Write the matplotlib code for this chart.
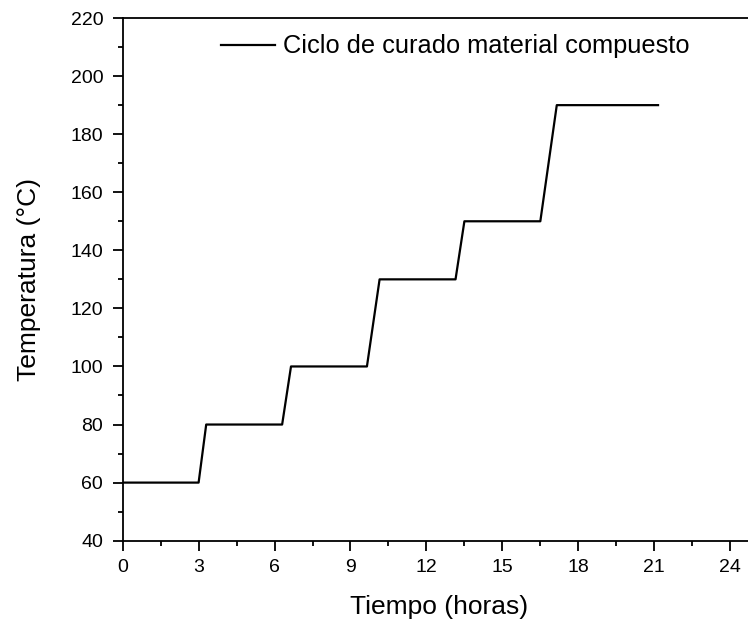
import matplotlib
matplotlib.use("Agg")
import matplotlib.pyplot as plt
from matplotlib.ticker import MultipleLocator

plt.rcParams['font.family'] = ['Liberation Sans', 'DejaVu Sans']

# Curing cycle of the composite: time (h) vs temperature (°C)
tiempo_h = [0.0, 3.0, 3.3, 6.3, 6.65, 9.65, 10.15, 13.15, 13.5, 16.5, 17.15, 21.15]
temperatura_c = [60, 60, 80, 80, 100, 100, 130, 130, 150, 150, 190, 190]
serie_label = "Ciclo de curado material compuesto"

fig = plt.figure(figsize=(7.48, 6.26), dpi=100)
ax = fig.add_axes([0.164, 0.1363, 0.846, 0.8349])

ax.plot(tiempo_h, temperatura_c, color='black', lw=1.6, label=serie_label)

ax.set_xlim(0, 25)
ax.set_ylim(40, 220)
ax.xaxis.set_major_locator(MultipleLocator(3))
ax.xaxis.set_minor_locator(MultipleLocator(1.5))
ax.yaxis.set_major_locator(MultipleLocator(20))
ax.yaxis.set_minor_locator(MultipleLocator(10))

for s in ax.spines.values():
    s.set_linewidth(1.3)
ax.tick_params(which='major', direction='out', length=7, width=1.3,
               labelsize=14)
ax.tick_params(axis='x', which='major', pad=6)
ax.tick_params(axis='y', which='major', pad=7)
ax.tick_params(which='minor', direction='out', length=3.5, width=1.3)
ax.tick_params(top=False, right=False, which='both')

ax.set_xlabel("Tiempo (horas)", fontsize=19, labelpad=14)
ax.set_ylabel("Temperatura (°C)", fontsize=19, labelpad=21)

ax.legend(loc='upper left', bbox_to_anchor=(0.139, 0.988), frameon=False,
          fontsize=18.3, handlelength=2.15, handletextpad=0.3, borderaxespad=0)

fig.savefig("out.png", dpi=100)
